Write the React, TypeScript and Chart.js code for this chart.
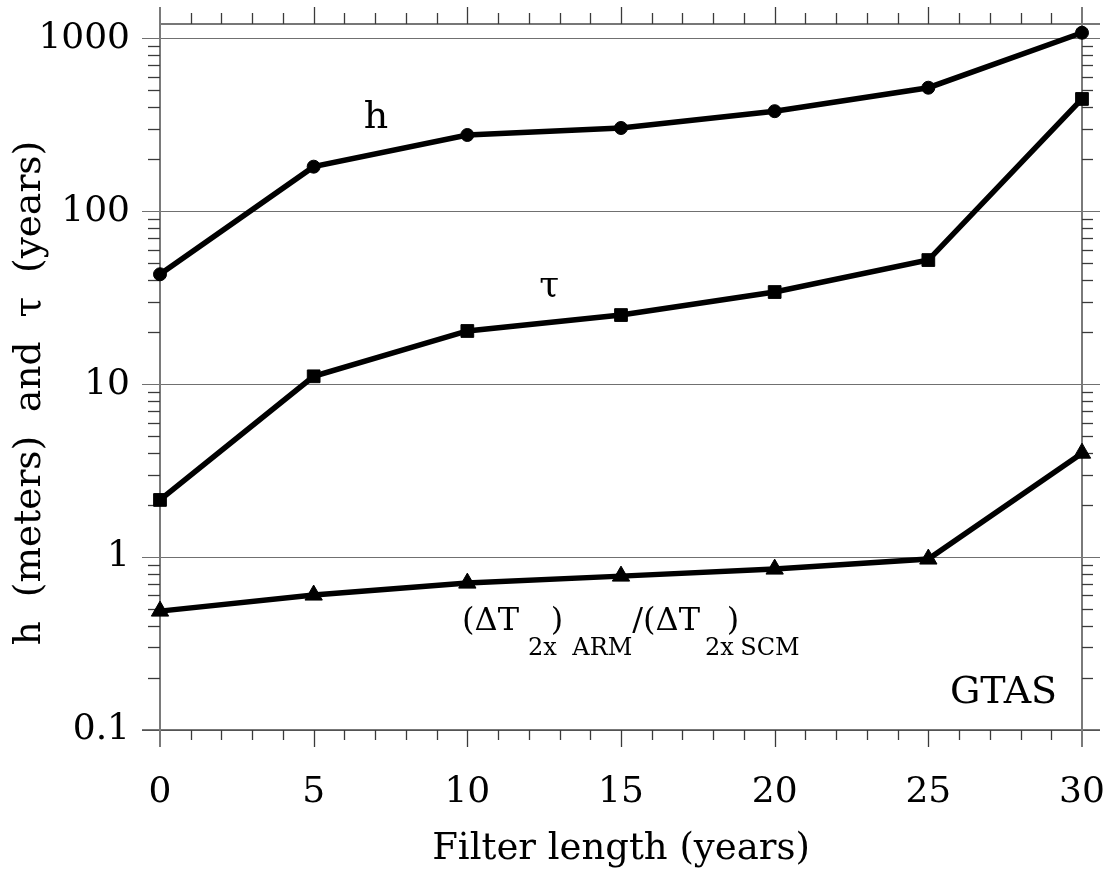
import React, { useEffect, useRef } from "react";
import { Chart, registerables } from "chart.js";

Chart.register(...registerables);

// ---- data ----
const filterLength = [0, 5, 10, 15, 20, 25, 30];
const hMeters = [43.2, 181, 276, 303, 379, 518, 1077];
const tauYears = [2.14, 11.1, 20.3, 25.1, 34.1, 52.2, 446];
const dtRatio = [0.487, 0.603, 0.707, 0.776, 0.852, 0.974, 3.99];

// ---- axes ----
const xMin = 0;
const xMax = 30;
const xMajorStep = 5;
const xMinorStep = 1;
const yMin = 0.1;
const yMax = 1210;
const yMajorTicks = [0.1, 1, 10, 100, 1000];
const yMajorLabels = ["0.1", "1", "10", "100", "1000"];
const yMinorMultipliers = [2, 3, 4, 5, 6, 7, 8, 9];

const xTitle = "Filter length (years)";
const yTitle = "h  (meters)  and  \u03c4  (years)";

// ---- in-plot labels (anchored in data coordinates) ----
const hLabel = { text: "h", x: 7.03, y: 303 };
const tauLabel = { text: "\u03c4", x: 12.66, y: 32.3 };
const ratioLabel = { x: 9.83, y: 0.378 };
const gtasLabel = { text: "GTAS", x: 29.19, y: 0.143 };

const FONT = '"DejaVu Serif", serif';

const zeroPadding = (s: any) => {
  s.paddingLeft = 0;
  s.paddingRight = 0;
  s.paddingTop = 0;
  s.paddingBottom = 0;
};

const framePlugin = {
  id: "frame",
  beforeDatasetsDraw(chart: any) {
    const { ctx, chartArea: a, scales } = chart;
    const x = scales.x;
    const y = scales.y;
    const line = (x1: number, y1: number, x2: number, y2: number) => {
      ctx.beginPath();
      ctx.moveTo(x1, y1);
      ctx.lineTo(x2, y2);
      ctx.stroke();
    };
    ctx.save();
    // decade grid lines
    ctx.strokeStyle = "#707070";
    ctx.lineWidth = 1;
    for (const v of yMajorTicks) {
      const py = Math.round(y.getPixelForValue(v)) + 0.5;
      line(a.left - 18, py, a.right + 18, py);
    }
    // frame
    ctx.strokeStyle = "#4a4a4a";
    ctx.lineWidth = 1.5;
    line(a.left, a.top, a.right + 18, a.top);
    line(a.left - 18, a.bottom, a.right + 18, a.bottom);
    ctx.strokeStyle = "#7a7a7a";
    ctx.lineWidth = 2;
    line(a.left, a.top - 17, a.left, a.bottom + 17);
    line(a.right, a.top - 17, a.right, a.bottom + 17);
    // x ticks (top and bottom)
    ctx.strokeStyle = "#3a3a3a";
    ctx.lineWidth = 1.3;
    for (let v = xMin; v <= xMax; v += xMinorStep) {
      const px = Math.round(x.getPixelForValue(v)) + 0.5;
      const major = v % xMajorStep === 0;
      if (v !== xMin && v !== xMax) {
        line(px, a.top - (major ? 17 : 11), px, a.top);
        line(px, a.bottom, px, a.bottom + (major ? 17 : 10));
      }
    }
    // y minor ticks (left and right)
    for (const d of yMajorTicks) {
      for (const m of yMinorMultipliers) {
        const v = d * m;
        if (v > yMax) continue;
        const py = Math.round(y.getPixelForValue(v)) + 0.5;
        line(a.left - 12, py, a.left, py);
        line(a.right, py, a.right + 11, py);
      }
    }
    ctx.restore();
  },
  afterDatasetsDraw(chart: any) {
    const { ctx, scales } = chart;
    const x = scales.x;
    const y = scales.y;
    ctx.save();
    ctx.fillStyle = "#000";
    ctx.textBaseline = "alphabetic";

    ctx.font = `38px ${FONT}`;
    ctx.textAlign = "center";
    ctx.fillText(hLabel.text, x.getPixelForValue(hLabel.x), y.getPixelForValue(hLabel.y));
    ctx.font = `36px ${FONT}`;
    ctx.fillText(tauLabel.text, x.getPixelForValue(tauLabel.x), y.getPixelForValue(tauLabel.y));

    ctx.font = `38px ${FONT}`;
    ctx.textAlign = "right";
    ctx.fillText(gtasLabel.text, x.getPixelForValue(gtasLabel.x), y.getPixelForValue(gtasLabel.y));

    // (ΔT_2x)_ARM / (ΔT_2x)_SCM
    const main = `32px ${FONT}`;
    const sub = `24px ${FONT}`;
    const pieces: [string, string, number][] = [
      ["(\u0394T", main, 0],
      ["2x", sub, 9],
      [")", main, -6],
      ["ARM", sub, 9],
      ["/(\u0394T", main, 0],
      ["2x", sub, 5],
      [")", main, -7],
      ["SCM", sub, 1],
    ];
    ctx.textAlign = "left";
    let cx = x.getPixelForValue(ratioLabel.x);
    const by = y.getPixelForValue(ratioLabel.y);
    for (const [t, f, gap] of pieces) {
      ctx.font = f;
      cx += gap;
      ctx.fillText(t, cx, f === sub ? by + 25 : by);
      cx += ctx.measureText(t).width;
    }

    // y-axis title
    ctx.font = `37.5px ${FONT}`;
    ctx.textAlign = "center";
    ctx.textBaseline = "middle";
    ctx.translate(30, 393);
    ctx.rotate(-Math.PI / 2);
    ctx.fillText(yTitle, 0, 0);
    ctx.restore();
  },
};

export default function App() {
  const ref = useRef<HTMLCanvasElement | null>(null);
  useEffect(() => {
    if (!ref.current) return;
    const common = {
      borderColor: "#000",
      backgroundColor: "#000",
      pointBackgroundColor: "#000",
      pointBorderColor: "#000",
      borderWidth: 5.5,
      pointBorderWidth: 1,
      clip: false as any,
    };
    const chart = new Chart(ref.current, {
      type: "line",
      data: {
        labels: filterLength,
        datasets: [
          {
            ...common,
            label: "h",
            data: filterLength.map((v, i) => ({ x: v, y: hMeters[i] })),
            pointStyle: "circle",
            pointRadius: 6.5,
          },
          {
            ...common,
            label: "tau",
            data: filterLength.map((v, i) => ({ x: v, y: tauYears[i] })),
            pointStyle: "rect",
            pointRadius: 9,
          },
          {
            ...common,
            label: "ratio",
            data: filterLength.map((v, i) => ({ x: v, y: dtRatio[i] })),
            pointStyle: "triangle",
            pointRadius: 10,
          },
        ],
      },
      options: {
        animation: false,
        responsive: false,
        devicePixelRatio: 1,
        events: [],
        layout: { padding: { top: 24, right: 22, left: 0, bottom: 0 } },
        plugins: { legend: { display: false }, tooltip: { enabled: false } },
        scales: {
          x: {
            type: "linear",
            min: xMin,
            max: xMax,
            grid: { display: false, drawTicks: false },
            border: { display: false },
            ticks: {
              stepSize: xMajorStep,
              color: "#000",
              font: { family: FONT, size: 36 },
              padding: 41,
              maxRotation: 0,
              callback: (v: any) => String(v),
            },
            title: {
              display: true,
              text: xTitle,
              color: "#000",
              font: { family: FONT, size: 37 },
              padding: { top: 0, bottom: 4 },
            },
            afterFit: (s: any) => {
              s.height = 146;
              zeroPadding(s);
            },
          },
          y: {
            type: "logarithmic",
            min: yMin,
            max: yMax,
            grid: { display: false, drawTicks: false },
            border: { display: false },
            ticks: {
              color: "#000",
              font: { family: FONT, size: 36 },
              padding: 30,
              callback: (v: any) => {
                const i = yMajorTicks.indexOf(Number(v));
                return i >= 0 ? yMajorLabels[i] : "";
              },
            },
            afterBuildTicks: (s: any) => {
              s.ticks = yMajorTicks.map((v) => ({ value: v, major: true }));
            },
            afterFit: (s: any) => {
              s.width = 160;
              zeroPadding(s);
            },
          },
        },
      } as any,
      plugins: [framePlugin],
    });
    return () => chart.destroy();
  }, []);
  return (
    <div style={{ position: "absolute", left: 0, top: 0, width: 1104, height: 876, background: "#fff" }}>
      <canvas ref={ref} width={1104} height={876} style={{ display: "block" }} />
    </div>
  );
}
